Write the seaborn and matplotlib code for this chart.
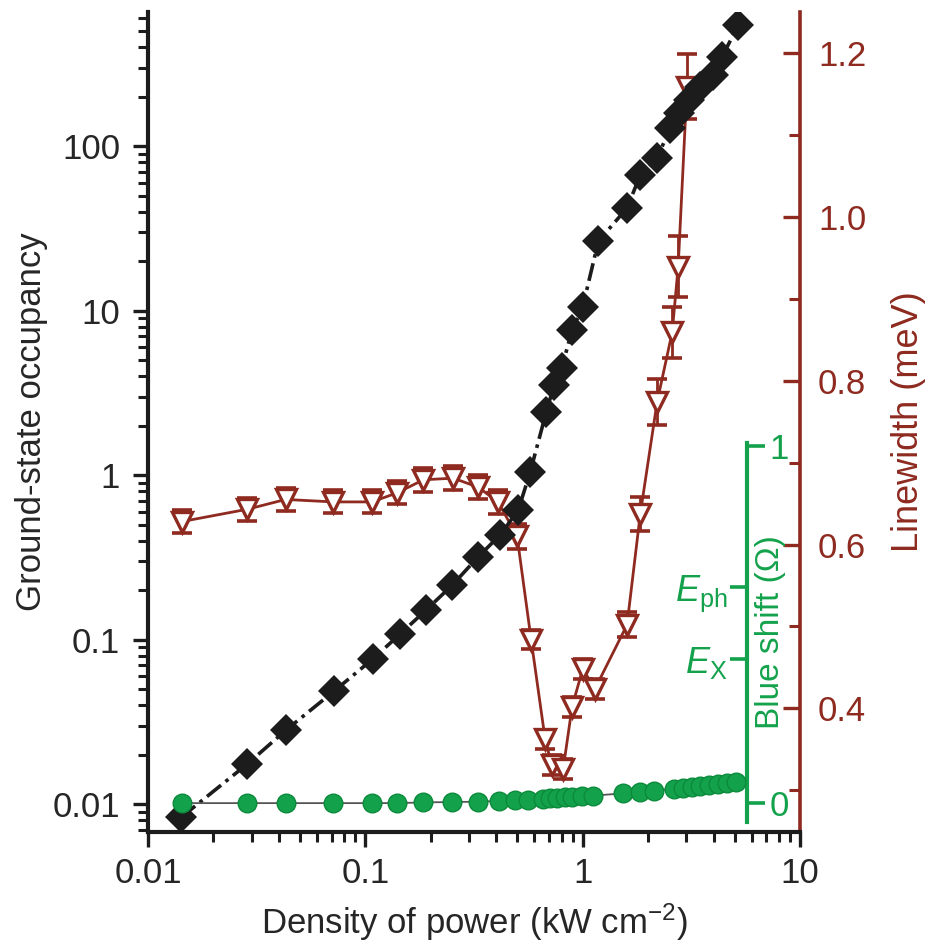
import matplotlib
matplotlib.use('Agg')
import matplotlib.pyplot as plt
import matplotlib.transforms as mtrans
from matplotlib.ticker import FixedLocator, FixedFormatter, FuncFormatter, LogLocator, NullFormatter
import seaborn as sns

# ---- data ----
occ_x = [0.0142, 0.0286, 0.0432, 0.0718, 0.108, 0.1445, 0.19, 0.251, 0.330, 0.417,
         0.505, 0.573, 0.68, 0.738, 0.80, 0.894, 1.0, 1.18, 1.6, 1.84, 2.2, 2.52,
         2.78, 3.1, 3.47, 3.97, 4.37, 5.2]
occ_y = [0.0083, 0.0175, 0.0282, 0.0486, 0.076, 0.108, 0.151, 0.214, 0.318, 0.432,
         0.612, 1.04, 2.42, 3.52, 4.47, 7.6, 10.5, 26.4, 42, 66.7, 84.5, 128,
         158, 191, 228, 270, 347, 545]

lw_x = [0.0143, 0.0286, 0.043, 0.071, 0.107, 0.14, 0.185, 0.254, 0.33, 0.408,
        0.499, 0.579, 0.672, 0.72, 0.813, 0.894, 1.0, 1.14, 1.6, 1.84, 2.2, 2.58,
        2.75, 3.02]
lw_y = [0.628, 0.643, 0.655, 0.652, 0.652, 0.663, 0.679, 0.681, 0.670, 0.652,
        0.610, 0.484, 0.362, 0.331, 0.326, 0.402, 0.448, 0.424, 0.502, 0.637,
        0.774, 0.859, 0.939, 1.159]
lw_err = [0.014, 0.014, 0.014, 0.014, 0.014, 0.014, 0.015, 0.015, 0.015, 0.015,
          0.015, 0.012, 0.012, 0.012, 0.012, 0.012, 0.012, 0.012, 0.015, 0.021,
          0.028, 0.031, 0.037, 0.040]

bs_x = [0.0143, 0.0286, 0.043, 0.071, 0.107, 0.14, 0.185, 0.25, 0.33, 0.41, 0.49,
        0.56, 0.66, 0.71, 0.76, 0.83, 0.89, 0.99, 1.11, 1.53, 1.84, 2.12, 2.62,
        2.9, 3.17, 3.46, 3.8, 4.2, 4.6, 5.1]
bs_y = [0.0, 0.0, 0.0, 0.0, 0.0, 0.0, 0.002, 0.003, 0.004, 0.006, 0.008, 0.010,
        0.012, 0.013, 0.014, 0.016, 0.017, 0.019, 0.021, 0.027, 0.031, 0.035,
        0.040, 0.043, 0.046, 0.048, 0.051, 0.054, 0.057, 0.060]

x_ticks = [0.01, 0.1, 1, 10]
occ_ticks = [0.01, 0.1, 1, 10, 100]
lw_ticks = [0.4, 0.6, 0.8, 1.0, 1.2]
lw_minor = [0.3, 0.5, 0.7, 0.9, 1.1]
bs_ticks = [0, 1]
bs_marks = [0.403, 0.605]
bs_mark_labels = [r'$\mathit{E}_{\mathrm{X}}$', r'$\mathit{E}_{\mathrm{ph}}$']

# ---- style ----
sns.set_theme(style='ticks')
plt.rcParams['font.family'] = ['Liberation Sans', 'DejaVu Sans']
plt.rcParams['mathtext.fontset'] = 'custom'
plt.rcParams['mathtext.rm'] = 'Liberation Sans'
plt.rcParams['mathtext.it'] = 'Liberation Sans:italic'
plt.rcParams['mathtext.default'] = 'regular'

BLACK = '#1c1c1c'
TEXT = '#262626'
RED = '#8E2A1F'
GREEN = '#13A24B'
FS_TICK = 25
FS_LAB = 25

fig = plt.figure(figsize=(9.28, 9.41), dpi=100)
ax = fig.add_axes([0.1595, 0.1158, 0.7026, 0.8714])
ax2 = ax.twinx()
ax3 = ax.twinx()

# ---- main (occupancy) ----
ax.set_xscale('log')
ax.set_yscale('log')
ax.set_xlim(0.01, 10)
ax.set_ylim(0.00676, 653)
sns.lineplot(x=occ_x, y=occ_y, ax=ax, color=BLACK, marker='D', markersize=16,
             markeredgewidth=0, linewidth=2.6, estimator=None, sort=False, legend=False)
ax.get_lines()[-1].set_linestyle((0, (5, 1.6, 1, 1.6)))

ax.xaxis.set_major_locator(FixedLocator(x_ticks))
ax.yaxis.set_major_locator(FixedLocator(occ_ticks))
ax.xaxis.set_minor_locator(LogLocator(base=10, subs=range(2, 10), numticks=20))
ax.yaxis.set_minor_locator(LogLocator(base=10, subs=range(2, 10), numticks=20))
fmt = FuncFormatter(lambda v, p: f'{v:g}')
ax.xaxis.set_major_formatter(fmt)
ax.yaxis.set_major_formatter(fmt)
ax.xaxis.set_minor_formatter(NullFormatter())
ax.yaxis.set_minor_formatter(NullFormatter())
ax.tick_params(which='major', direction='out', length=11, width=2.4, color=BLACK,
               labelcolor=TEXT, labelsize=FS_TICK)
ax.tick_params(axis='y', which='major', pad=9)
ax.tick_params(axis='x', which='major', pad=7)
ax.tick_params(which='minor', direction='out', length=7, width=2.2, color=BLACK)
for s in ['top', 'right']:
    ax.spines[s].set_visible(False)
for s in ['left', 'bottom']:
    ax.spines[s].set_linewidth(3)
    ax.spines[s].set_color(BLACK)
ax.set_xlabel(r'Density of power (kW cm$^{-2}$)', fontsize=FS_LAB, color=TEXT, labelpad=8)
ax.set_ylabel('Ground-state occupancy', fontsize=FS_LAB, color=TEXT, labelpad=3)

# ---- linewidth (red) ----
ax2.set_ylim(0.249, 1.25)
ax2.errorbar(lw_x, lw_y, yerr=lw_err, fmt='none', ecolor=RED, elinewidth=2,
             capsize=7, capthick=2.6)
sns.lineplot(x=lw_x, y=lw_y, ax=ax2, color=RED, marker='v', markersize=15,
             markerfacecolor='white', markeredgecolor=RED, markeredgewidth=2.4,
             linewidth=2, estimator=None, sort=False, legend=False)
ax2.yaxis.set_major_locator(FixedLocator(lw_ticks))
ax2.yaxis.set_minor_locator(FixedLocator(lw_minor))
ax2.yaxis.set_major_formatter(FuncFormatter(lambda v, p: f'{v:.1f}'))
ax2.tick_params(axis='y', which='major', direction='in', length=12, width=2.4,
                color=RED, labelcolor=RED, labelsize=FS_TICK, pad=13)
ax2.tick_params(axis='y', which='minor', direction='in', length=8, width=2.2, color=RED)
for s in ['top', 'left', 'bottom']:
    ax2.spines[s].set_visible(False)
ax2.spines['right'].set_color(RED)
ax2.spines['right'].set_linewidth(2.6)
ax2.set_ylabel('Linewidth (meV)', fontsize=FS_LAB + 1, color=RED, labelpad=18)

# ---- blue shift (green) ----
ax3.set_ylim(-0.081, 2.216)
sns.lineplot(x=bs_x, y=bs_y, ax=ax3, color='#555555', linewidth=1.3,
             estimator=None, sort=False, legend=False)
sns.scatterplot(x=bs_x, y=bs_y, ax=ax3, s=180, color=GREEN, edgecolor='#0c8a3c',
                linewidth=1.0, zorder=4, legend=False)
for s in ['top', 'bottom']:
    ax3.spines[s].set_visible(False)
ax3.spines['left'].set_visible(False)
ax3.spines['left'].set_position(('axes', 0.919))
ax3.spines['right'].set_position(('axes', 0.919))
ax3.spines['right'].set_bounds(-0.053, 1.01)
ax3.spines['right'].set_color(GREEN)
ax3.spines['right'].set_linewidth(3)
ax3.yaxis.set_major_locator(FixedLocator(bs_ticks))
ax3.yaxis.set_major_formatter(FuncFormatter(lambda v, p: f'{v:g}'))
ax3.yaxis.set_minor_locator(FixedLocator(bs_marks))
ax3.yaxis.set_minor_formatter(FixedFormatter(bs_mark_labels))
ax3.tick_params(axis='y', which='major', left=False, right=True, labelleft=False,
                labelright=True, direction='out', length=13, width=2.6,
                color=GREEN, labelcolor=GREEN, labelsize=FS_TICK, pad=3)
ax3.tick_params(axis='y', which='minor', left=True, right=False, labelleft=True,
                labelright=False, direction='out', length=12, width=2.6,
                color=GREEN, labelcolor=GREEN, labelsize=FS_TICK + 1, pad=2)
trans = mtrans.blended_transform_factory(ax3.transAxes, ax3.transData)
ax3.text(0.954, 0.48, 'Blue shift (Ω)', transform=trans, rotation=90,
         ha='center', va='center', color=GREEN, fontsize=FS_LAB - 1)

# layering: red below black, green on top
ax2.set_zorder(1)
ax.set_zorder(2)
ax3.set_zorder(3)
ax.patch.set_visible(False)
ax2.patch.set_visible(False)
ax3.patch.set_visible(False)

fig.savefig('out.png', dpi=100, facecolor='white')
